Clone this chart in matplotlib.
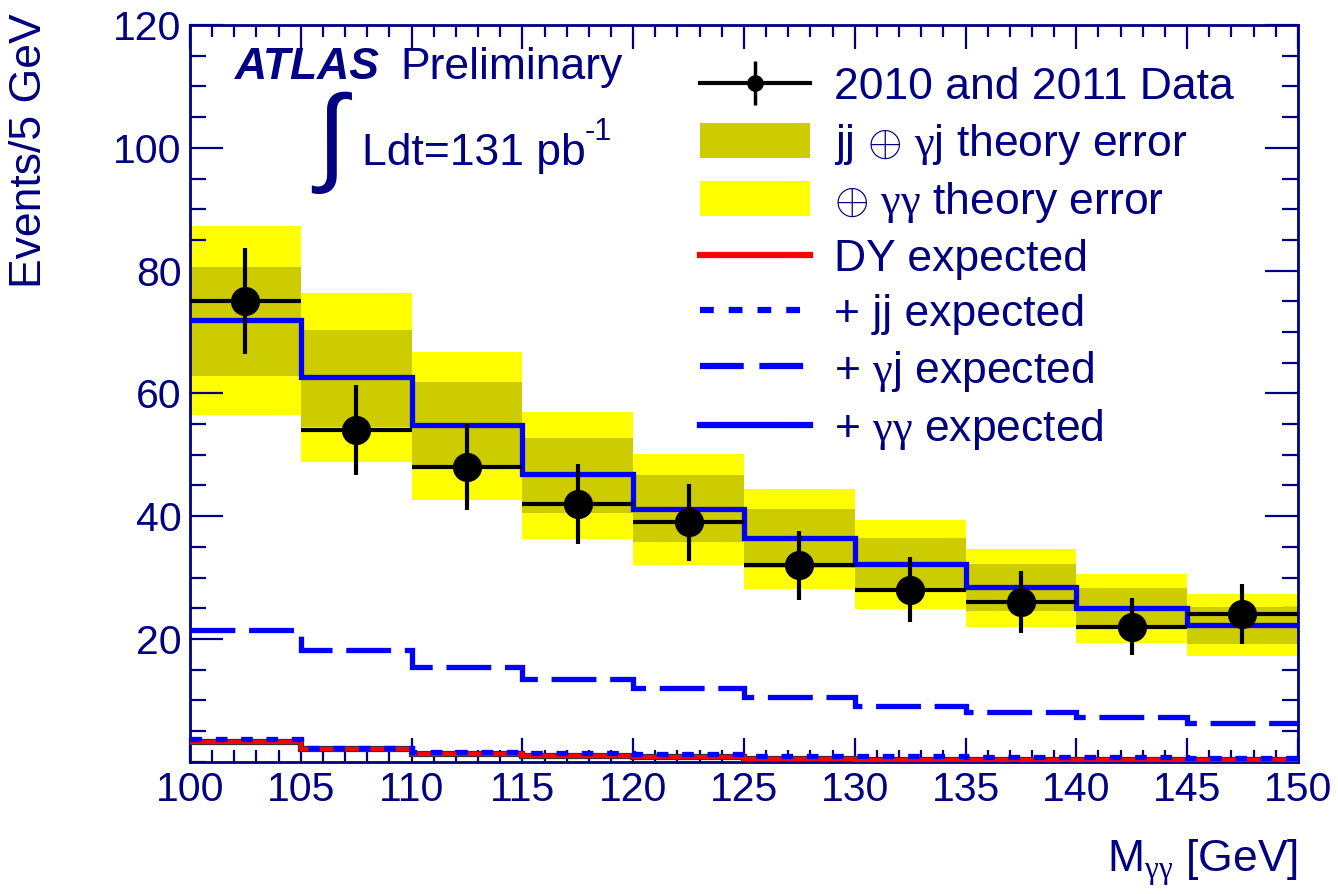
import numpy as np
import matplotlib
matplotlib.use('Agg')
import matplotlib.pyplot as plt
from matplotlib.lines import Line2D
from matplotlib.patches import Patch
from matplotlib.ticker import MultipleLocator
import matplotlib.patheffects as pe

plt.rcParams['font.family'] = ['Liberation Sans', 'DejaVu Sans']
plt.rcParams['mathtext.fontset'] = 'custom'
plt.rcParams['mathtext.rm'] = 'Liberation Serif'
plt.rcParams['mathtext.sf'] = 'Liberation Sans'
plt.rcParams['mathtext.it'] = 'Liberation Sans:italic'

navy = '#000080'

# bins of 5 GeV in M_gamma-gamma
edges = [100, 105, 110, 115, 120, 125, 130, 135, 140, 145, 150]
data = [75, 54, 48, 42, 39, 32, 28, 26, 22, 24]
dy_exp = [3.2, 2.0, 1.2, 0.9, 0.8, 0.4, 0.3, 0.3, 0.2, 0.2]
jj_exp = [3.7, 2.3, 1.6, 1.35, 1.3, 1.0, 0.9, 0.8, 0.7, 0.6]
gj_exp = [21.5, 18.2, 15.4, 13.5, 12.0, 10.5, 9.1, 8.1, 7.2, 6.3]
gg_exp = [71.9, 62.7, 54.8, 46.8, 41.2, 36.4, 32.2, 28.4, 25.0, 22.3]
dark_hi = [80.6, 70.4, 61.8, 52.8, 46.7, 41.1, 36.4, 32.2, 28.3, 25.2]
dark_lo = [62.9, 54.6, 47.8, 40.5, 35.8, 31.6, 27.9, 24.5, 21.6, 19.2]
yel_hi = [87.3, 76.3, 66.8, 56.9, 50.2, 44.4, 39.3, 34.6, 30.6, 27.3]
yel_lo = [56.4, 48.9, 42.6, 36.3, 32.0, 28.1, 24.9, 21.9, 19.3, 17.2]

edges = np.array(edges)
centers = (edges[:-1] + edges[1:]) / 2
data = np.array(data)

fig = plt.figure(figsize=(13.38, 8.94), dpi=100)
ax = fig.add_axes([0.142, 0.148, 0.828, 0.824])

ax.bar(edges[:-1], np.array(yel_hi) - np.array(yel_lo), bottom=yel_lo, width=5,
       align='edge', color='#ffff00', lw=0, zorder=1)
ax.bar(edges[:-1], np.array(dark_hi) - np.array(dark_lo), bottom=dark_lo, width=5,
       align='edge', color='#cccc00', lw=0, zorder=2)

ax.stairs(dy_exp, edges, baseline=None, color='red', lw=3, zorder=3,
          path_effects=[pe.Stroke(linewidth=4.5, foreground='#333333'), pe.Normal()])
ax.stairs(jj_exp, edges, baseline=None, color='blue', lw=3.8, ls=(0, (2.2, 2.6)), zorder=3)
ax.stairs(gj_exp, edges, baseline=None, color='blue', lw=3.8, ls=(0, (8.5, 2.6)), zorder=3)
ax.stairs(gg_exp, edges, baseline=None, color='blue', lw=3.8, zorder=4)

ax.errorbar(centers, data, xerr=2.5, yerr=np.sqrt(data), fmt='o', color='k',
            ms=20, elinewidth=3, capsize=0, zorder=5)

ax.set_xlim(100, 150)
ax.set_ylim(0, 120)
ax.set_xticks(np.arange(100, 151, 5))
ax.xaxis.set_minor_locator(MultipleLocator(1))
ax.set_yticks(np.arange(20, 121, 20))
ax.yaxis.set_minor_locator(MultipleLocator(5))
ax.tick_params(which='both', direction='in', top=True, right=True, colors=navy,
               labelsize=29.5, width=1.6)
ax.tick_params(axis='x', which='major', length=17, pad=7)
ax.tick_params(axis='x', which='minor', length=8.5)
ax.tick_params(axis='y', which='major', length=24, pad=6)
ax.tick_params(axis='y', which='minor', length=11.5)
for s in ax.spines.values():
    s.set_color(navy)
    s.set_linewidth(2)

fig.text(0.022, 0.985, 'Events/5 GeV', rotation=90, ha='center', va='top',
         fontsize=32, color=navy)
fig.text(0.970, 0.035, r'M$_{\mathrm{γγ}}$ [GeV]', ha='right', va='center',
         fontsize=32, color=navy)

fig.text(0.1756, 0.9116, 'ATLAS', fontsize=32, fontweight='bold', fontstyle='italic',
         color=navy, va='baseline')
fig.text(0.299, 0.9116, 'Preliminary', fontsize=32, color=navy, va='baseline')
fig.text(0.2474, 0.8406, '∫', fontsize=78, color=navy, ha='center', va='center')
fig.text(0.2705, 0.8154, 'Ldt=131 pb', fontsize=32, color=navy, va='baseline')
fig.text(0.437, 0.843, '-1', fontsize=22, color=navy, va='baseline')

h_data = (Line2D([], [], color='k', lw=3, marker='o', ms=11),
          Line2D([], [], color='k', ls='none', marker='|', ms=32, mew=2.5))
handles = [h_data,
           Patch(color='#cccc00', lw=0),
           Patch(color='#ffff00', lw=0),
           Line2D([], [], color='red', lw=4.5),
           Line2D([], [], color='blue', lw=4.5, ls=(0, (2.2, 2.4))),
           Line2D([], [], color='blue', lw=4.5, ls=(0, (7, 2.5))),
           Line2D([], [], color='blue', lw=4.5)]
labels = ['2010 and 2011 Data', r'jj $\oplus$ $\mathrm{γ}$j theory error',
          r'$\oplus$ $\mathrm{γγ}$ theory error', 'DY expected', '+ jj expected',
          r'+ $\mathrm{γ}$j expected', r'+ $\mathrm{γγ}$ expected']
leg = ax.legend(handles, labels, loc='upper left', bbox_to_anchor=(0.523, 0.9255),
                bbox_transform=fig.transFigure, frameon=False, fontsize=32,
                handlelength=2.47, handleheight=0.83, handletextpad=0.56,
                labelspacing=0.3, borderpad=0, borderaxespad=0)
for t in leg.get_texts():
    t.set_color(navy)

fig.savefig('out.png', dpi=100)
